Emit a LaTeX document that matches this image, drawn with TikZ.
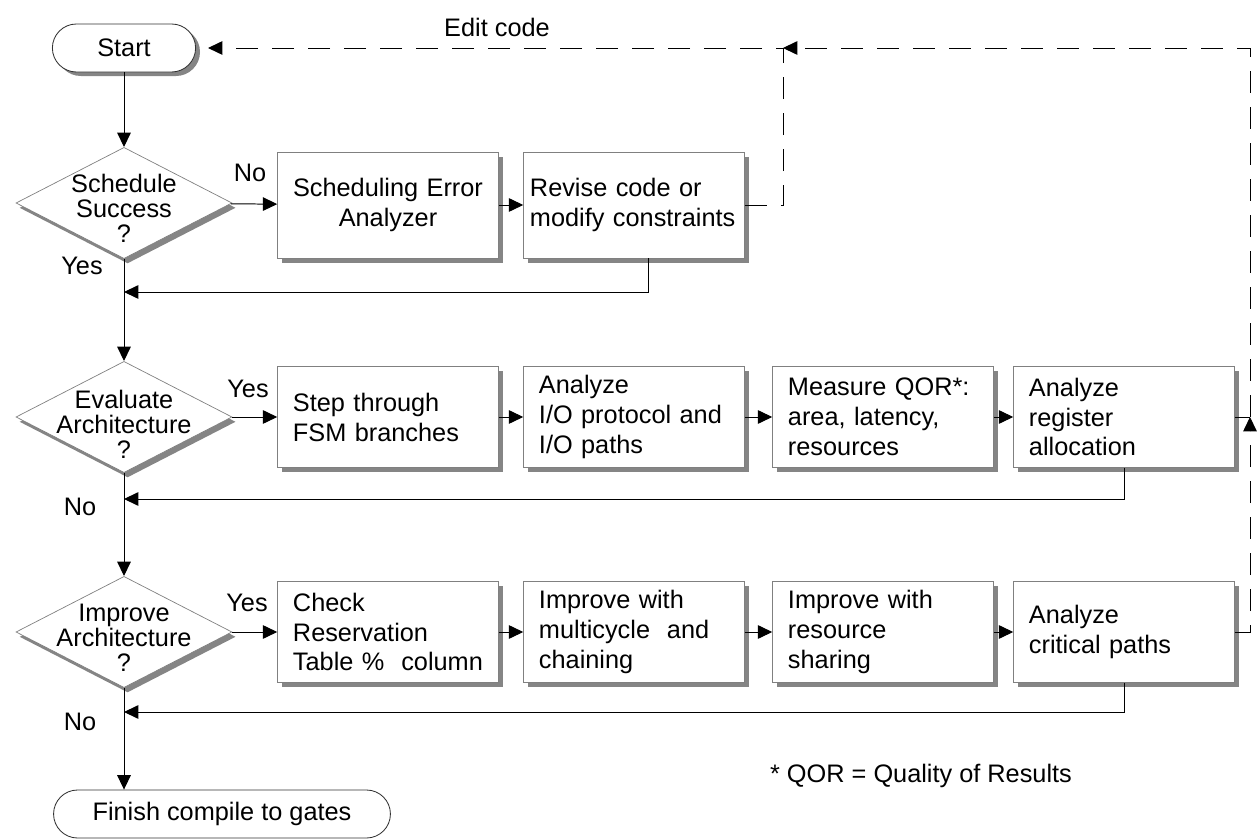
\documentclass[tikz,border=0pt]{standalone}
\usepackage{fontspec}
\setmainfont{Liberation Sans}
\usepackage{xcolor}
\usepackage{tikz}
\definecolor{flowEdge}{HTML}{808080}
\definecolor{flowShadow}{HTML}{858585}
\definecolor{flowInk}{HTML}{000000}
\usetikzlibrary{arrows.meta,positioning,shapes.geometric,shadows,calc}

\begin{document}
\begin{tikzpicture}[
  x=0.025cm, y=-0.025cm,
  font=\fontsize{18}{21.3}\selectfont,
  terminal/.style={draw=black!80, line width=0.6pt, rounded corners=0.6cm, minimum height=1.2cm, fill=white},
  decision/.style={draw=flowEdge, line width=0.5pt, diamond, minimum width=5.4cm, minimum height=2.78cm, inner sep=0pt, fill=white, drop shadow={shadow xshift=0.09cm, shadow yshift=-0.12cm, fill=flowShadow, opacity=1}},
  dtext/.style={align=center, font=\fontsize{18}{17.8}\selectfont},
  stepbox/.style={draw=flowEdge, line width=0.5pt, minimum width=5.52cm, minimum height=2.53cm, text width=4.75cm, align=left, fill=white, drop shadow={shadow xshift=0.12cm, shadow yshift=-0.12cm, fill=flowShadow, opacity=1}},
  flow/.style={flowInk, line width=0.7pt, -{Triangle[length=0.36cm, width=0.34cm]}},
  link/.style={flowInk, line width=0.7pt},
  loopback/.style={flow, dash pattern=on 0.55cm off 0.35cm}
]
\useasboundingbox (0,0) rectangle (1257,839);

% Terminals
\node[terminal, minimum width=3.58cm, drop shadow={shadow xshift=0.11cm, shadow yshift=-0.1cm, fill=flowShadow, opacity=1}] (start) at (124,48) {Start};
\node[terminal, minimum width=8.42cm] (finish) at (222,814) {Finish compile to gates};

% Decisions (text set apart so it may spill past the diamond)
\node[decision] (sched) at (124,203) {};
\node[dtext] (schedtxt) at (124,208) {Schedule\\Success\\?};
\node[decision] (evalarch) at (124,417) {};
\node[dtext] (evaltxt) at (124,424) {Evaluate\\Architecture\\?};
\node[decision] (improve) at (124,632) {};
\node[dtext] (improvetxt) at (124,638) {Improve\\Architecture\\?};

% Row 1: scheduling failure
\node[stepbox, minimum height=2.65cm, align=center] (errbox) at (388,205) {Scheduling Error\\Analyzer};
\node[stepbox, minimum height=2.65cm, text width=5.2cm] (revise) at (634,205) {Revise code or\\modify constraints};

% Row 2: architecture evaluation
\node[stepbox] (fsm) at (388,417) {Step through\\FSM branches};
\node[stepbox] (iocheck) at (634,417) {Analyze\\I/O protocol and\\I/O paths};
\node[stepbox] (qor) at (883,417) {Measure QOR*:\\area, latency,\\resources};
\node[stepbox] (regalloc) at (1124,417) {Analyze\\register\\allocation};

% Row 3: architecture improvement
\node[stepbox] (restable) at (388,632) {Check\\Reservation\\Table~\%~ column};
\node[stepbox] (multicyc) at (634,632) {Improve with\\multicycle~ and\\chaining};
\node[stepbox] (sharing) at (883,632) {Improve with\\resource\\sharing};
\node[stepbox] (critpath) at (1124,632) {Analyze\\critical paths};

% Branch labels
\node (nosched) at (250,173) {No};
\node (yessched) at (82,266) {Yes};
\node (yeseval) at (248,389) {Yes};
\node (noeval) at (80,507) {No};
\node (yesimp) at (247,603) {Yes};
\node (noimp) at (80,722) {No};
\node (editlbl) at (497,27) {Edit code};
\node (qornote) at (921,776) {* QOR = Quality of Results};

% Main trunk
\coordinate (join1) at (124,292);
\coordinate (join2) at (124,499);
\coordinate (join3) at (124,712);
\draw[flow] (start) -- (sched);
\draw[flow] (sched) -- (evalarch);
\draw[flow] (evalarch) -- (improve);
\draw[flow] (improve.south) -- (improve.south |- finish.north);

% Side branches
\draw[flow] (sched) -- (errbox);
\draw[flow] (errbox) -- (revise);
\draw[flow] ([xshift=0.35cm]revise.south) |- (join1);

\draw[flow] (evalarch) -- (fsm);
\draw[flow] (fsm) -- (iocheck);
\draw[flow] (iocheck) -- (qor);
\draw[flow] (qor) -- (regalloc);
\draw[flow] (regalloc.south) |- (join2);

\draw[flow] (improve) -- (restable);
\draw[flow] (restable) -- (multicyc);
\draw[flow] (multicyc) -- (sharing);
\draw[flow] (sharing) -- (critpath);
\draw[flow] (critpath.south) |- (join3);

% Edit-code loops
\coordinate (editcorner) at (783,48);
\coordinate (regjoin) at (1250,417);
\draw[loopback, shorten >=0.3cm] (revise.east) -| (editcorner) -- (start.east);
\draw[loopback] (critpath.east) -| (regjoin);
\draw[link] (regalloc.east) -- (regjoin);
\draw[loopback] (regjoin) |- (editcorner);

\end{tikzpicture}
\end{document}
